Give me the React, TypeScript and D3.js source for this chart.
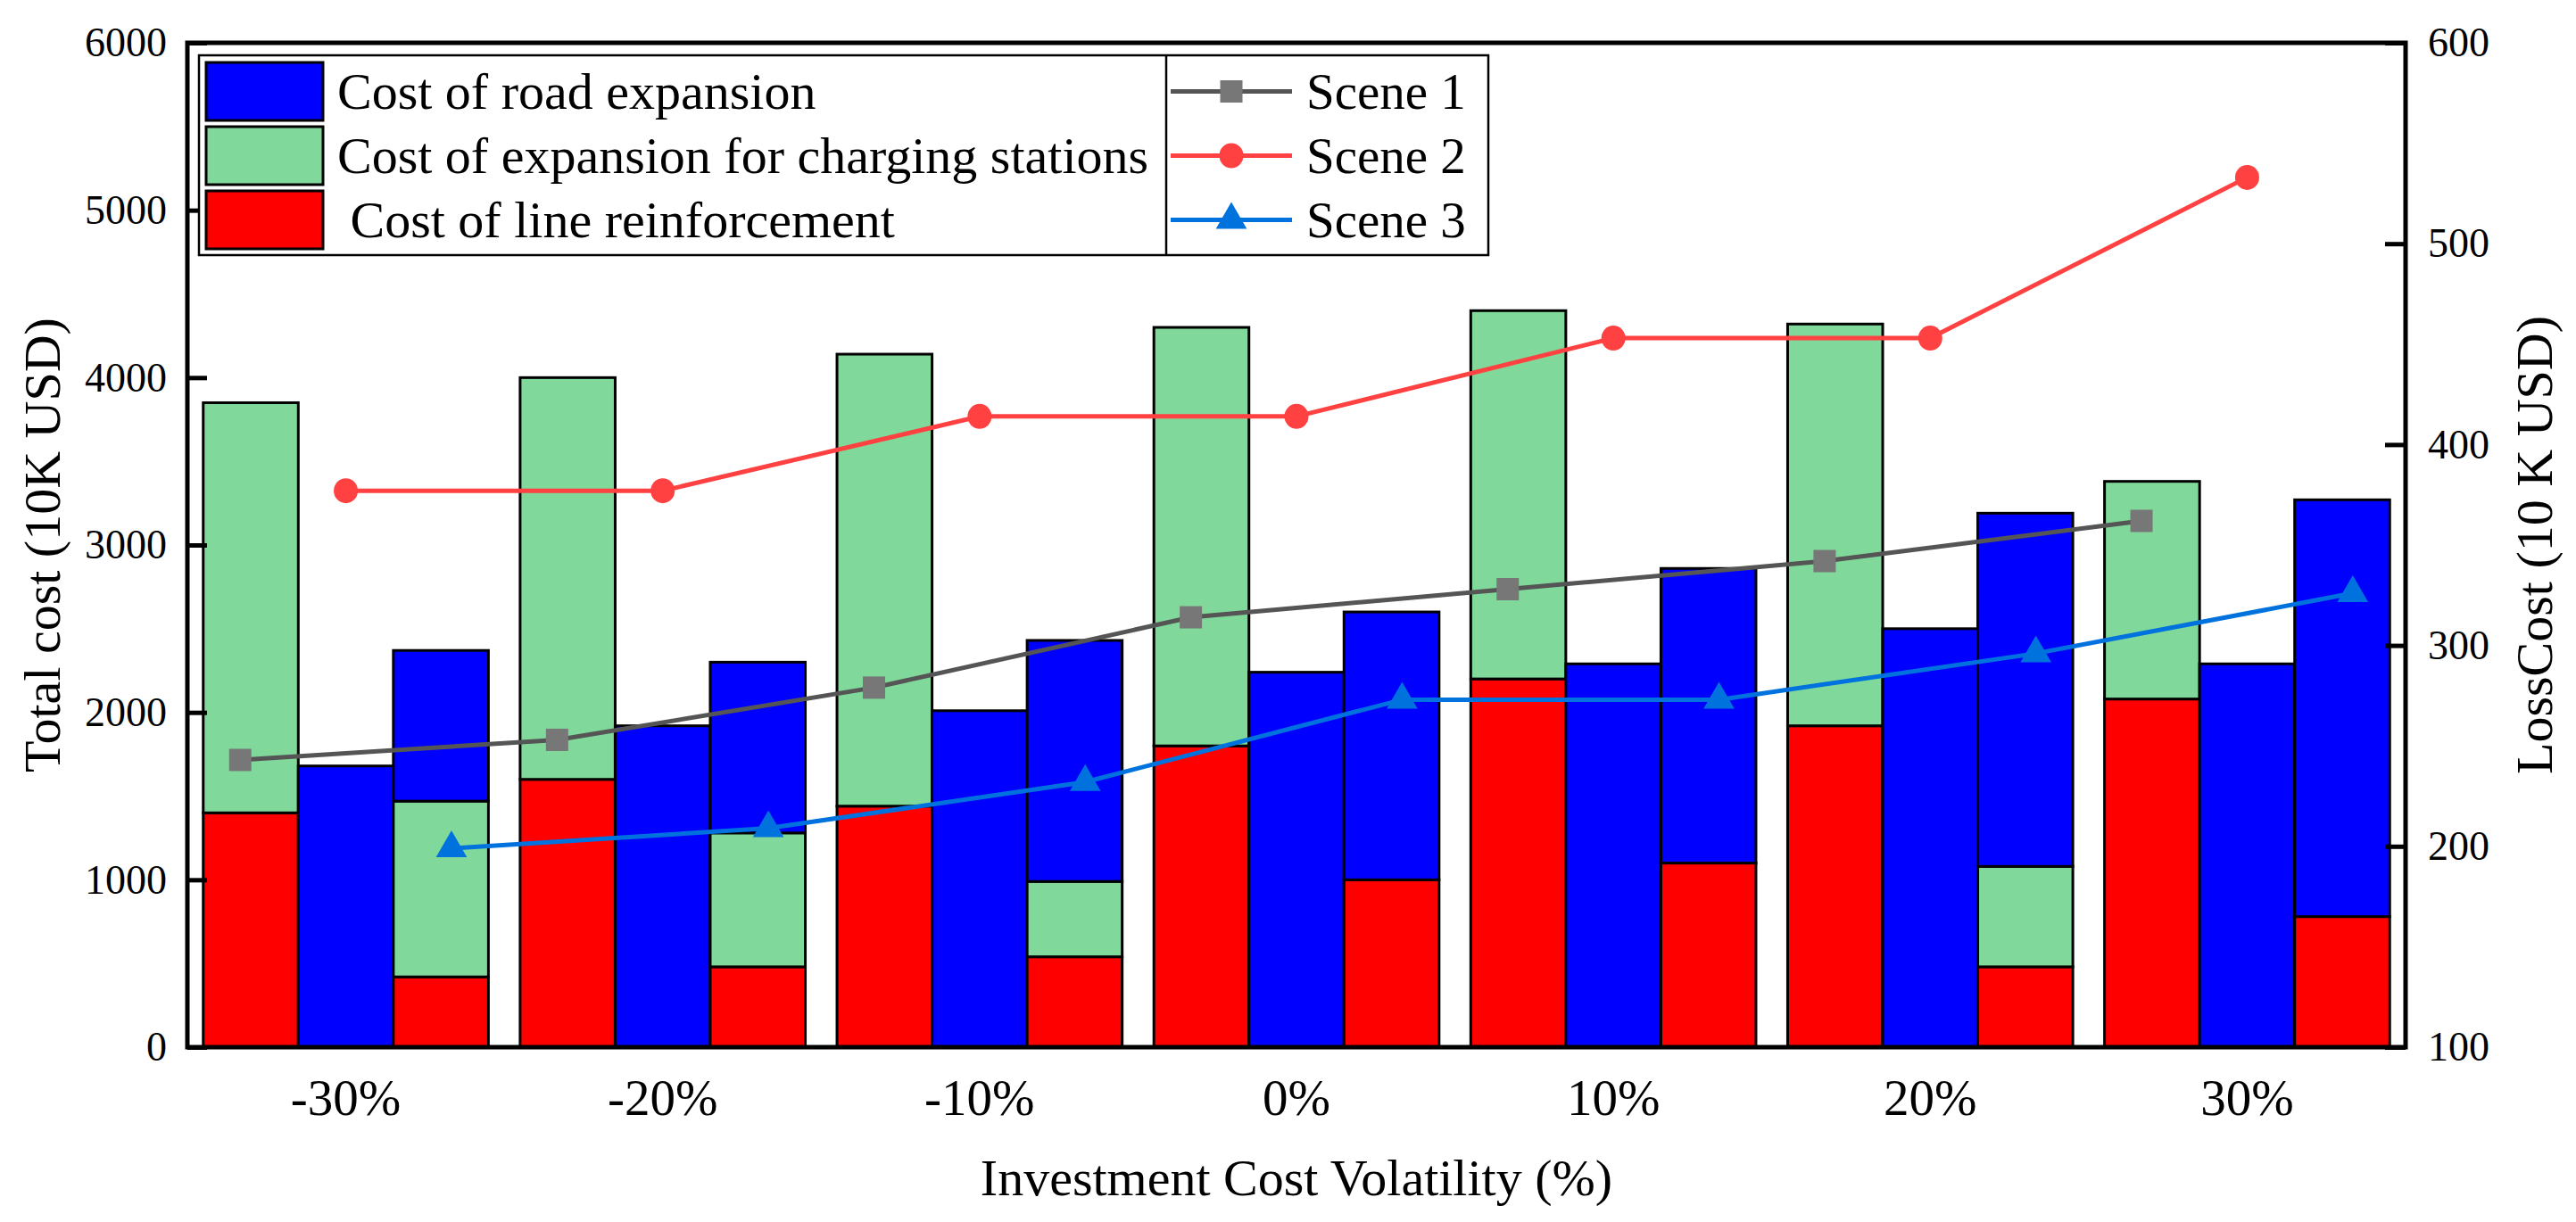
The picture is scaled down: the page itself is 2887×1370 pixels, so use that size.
import React, { useEffect, useRef } from 'react';
import * as d3 from 'd3';

// categories on the x axis
const categories = ['-30%', '-20%', '-10%', '0%', '10%', '20%', '30%'];

// Scene 1 bar: line reinforcement + charging stations
const scene1Line = [1400, 1600, 1440, 1800, 2200, 1920, 2080];
const scene1Charging = [2450, 2400, 2700, 2500, 2200, 2400, 1300];
const scene1Road = [0, 0, 0, 0, 0, 0, 0];

// Scene 2 bar: road expansion only
const scene2Line = [0, 0, 0, 0, 0, 0, 0];
const scene2Charging = [0, 0, 0, 0, 0, 0, 0];
const scene2Road = [1680, 1920, 2010, 2240, 2290, 2500, 2290];

// Scene 3 bar: all three
const scene3Line = [420, 480, 540, 1000, 1100, 480, 780];
const scene3Charging = [1050, 800, 450, 0, 0, 600, 0];
const scene3Road = [900, 1020, 1440, 1600, 1760, 2110, 2490];

// loss cost lines (right axis)
const scene1Loss = [243, 253, 279, 314, 328, 342, 362];
const scene2Loss = [377, 377, 414, 414, 453, 453, 533];
const scene3Loss = [199, 209, 232, 273, 273, 296, 326];

const leftTicks = [0, 1000, 2000, 3000, 4000, 5000, 6000];
const rightTicks = [100, 200, 300, 400, 500, 600];

const barKeys = ['line', 'charging', 'road'];
const barColors: any = { line: '#ff0000', charging: '#80d99b', road: '#0000ff' };
const barLabels = ['Cost of road expansion', 'Cost of expansion for charging stations', ' Cost of line reinforcement'];
const barLegendColors = ['#0000ff', '#80d99b', '#ff0000'];

const sceneNames = ['Scene 1', 'Scene 2', 'Scene 3'];
const sceneLineColors = ['#555555', '#ff4141', '#0072de'];
const sceneMarkerColors = ['#777777', '#ff4141', '#0072de'];
const sceneMarkers = ['square', 'circle', 'triangle'];

const FONT = '"Times New Roman", "Liberation Serif", serif';

const Chart = () => {
  const svgRef: any = useRef();

  useEffect(() => {
    document.body.style.margin = '0';
    const width = 2887;
    const height = 1370;
    const left = 210, right = 2696, top = 48, bottom = 1174;

    const svg = d3.select(svgRef.current)
      .attr('width', width)
      .attr('height', height)
      .style('font-family', FONT);
    svg.selectAll('*').remove();

    const x = d3.scaleBand().domain(categories).range([left, right])
      .paddingInner(0.1).paddingOuter(0.05);
    const y = d3.scaleLinear().domain([0, 6000]).range([bottom, top]);
    const yR = d3.scaleLinear().domain([100, 600]).range([bottom, top]);

    const scenesBars = [
      [scene1Line, scene1Charging, scene1Road],
      [scene2Line, scene2Charging, scene2Road],
      [scene3Line, scene3Charging, scene3Road],
    ];
    const bw = x.bandwidth() / 3;

    // stacked bars
    scenesBars.forEach((arrs, j) => {
      const rows = categories.map((c, i) => ({ cat: c, line: arrs[0][i], charging: arrs[1][i], road: arrs[2][i] }));
      const stacked = d3.stack<any>().keys(barKeys)(rows);
      stacked.forEach(layer => {
        svg.append('g')
          .selectAll('rect')
          .data(layer.filter((d: any) => d[1] - d[0] > 0))
          .join('rect')
          .attr('x', (d: any) => (x(d.data.cat) as number) + j * bw)
          .attr('y', (d: any) => y(d[1]))
          .attr('width', bw)
          .attr('height', (d: any) => y(d[0]) - y(d[1]))
          .attr('fill', barColors[layer.key])
          .attr('stroke', 'black')
          .attr('stroke-width', 3);
      });
    });

    // lines
    const losses = [scene1Loss, scene2Loss, scene3Loss];
    const step = x.step();
    const drawMarker = (g: any, kind: string, cx: number, cy: number, color: string) => {
      if (kind === 'square') {
        g.append('rect').attr('x', cx - 12.5).attr('y', cy - 12.5).attr('width', 25).attr('height', 25).attr('fill', color);
      } else if (kind === 'circle') {
        g.append('ellipse').attr('cx', cx).attr('cy', cy).attr('rx', 13.5).attr('ry', 14).attr('fill', color);
      } else {
        g.append('path').attr('d', d3.symbol().type(d3.symbolTriangle).size(520)()).attr('transform', `translate(${cx},${cy})`).attr('fill', color);
      }
    };
    losses.forEach((vals, j) => {
      const pts: [number, number][] = vals.map((v, i) => [
        (x(categories[i]) as number) + x.bandwidth() / 2 + (j - 1) * step / 3,
        yR(v),
      ]);
      const g = svg.append('g');
      g.append('path')
        .attr('d', d3.line()(pts))
        .attr('fill', 'none')
        .attr('stroke', sceneLineColors[j])
        .attr('stroke-width', 5);
      pts.forEach(p => drawMarker(g, sceneMarkers[j], p[0], p[1], sceneMarkerColors[j]));
    });

    // axes
    const axL = svg.append('g').attr('transform', `translate(${left},0)`)
      .call(d3.axisLeft(y).tickValues(leftTicks).tickSize(-22).tickPadding(23).tickFormat(d3.format('d')));
    const axR = svg.append('g').attr('transform', `translate(${right},0)`)
      .call(d3.axisRight(yR).tickValues(rightTicks).tickSize(-23).tickPadding(25).tickFormat(d3.format('d')));
    [axL, axR].forEach(ax => {
      ax.select('.domain').remove();
      ax.selectAll('line').attr('stroke', 'black').attr('stroke-width', 5);
      ax.selectAll('text').attr('font-size', 46).attr('font-family', FONT).attr('fill', 'black');
    });

    svg.append('rect')
      .attr('x', left).attr('y', top)
      .attr('width', right - left).attr('height', bottom - top)
      .attr('fill', 'none').attr('stroke', 'black').attr('stroke-width', 5);

    // category labels
    svg.append('g').selectAll('text').data(categories).join('text')
      .attr('x', d => (x(d) as number) + x.bandwidth() / 2)
      .attr('y', 1250)
      .attr('text-anchor', 'middle')
      .attr('font-size', 57)
      .text(d => d);

    svg.append('text')
      .attr('x', (left + right) / 2).attr('y', 1340)
      .attr('text-anchor', 'middle').attr('font-size', 58)
      .text('Investment Cost Volatility (%)');

    svg.append('text')
      .attr('transform', `translate(67,${(top + bottom) / 2}) rotate(-90)`)
      .attr('text-anchor', 'middle').attr('font-size', 58)
      .text('Total cost (10K USD)');

    svg.append('text')
      .attr('transform', `translate(2860,${(top + bottom) / 2}) rotate(-90)`)
      .attr('text-anchor', 'middle').attr('font-size', 58)
      .text('LossCost (10 K USD)');

    // legend
    const lg = svg.append('g');
    lg.append('rect').attr('x', 223).attr('y', 62).attr('width', 1445).attr('height', 224)
      .attr('fill', 'white').attr('stroke', 'black').attr('stroke-width', 2.5);
    lg.append('line').attr('x1', 1307).attr('x2', 1307).attr('y1', 62).attr('y2', 286)
      .attr('stroke', 'black').attr('stroke-width', 2.5);
    const rowY = [102.5, 174.5, 246.5];
    barLabels.forEach((lab, i) => {
      lg.append('rect').attr('x', 231).attr('y', rowY[i] - 32.5).attr('width', 131).attr('height', 65)
        .attr('fill', barLegendColors[i]).attr('stroke', 'black').attr('stroke-width', 3);
      lg.append('text').attr('x', 378).attr('y', rowY[i] + 19)
        .attr('font-size', 58).style('white-space', 'pre').text(lab);
    });
    sceneNames.forEach((name, i) => {
      lg.append('line').attr('x1', 1312).attr('x2', 1448).attr('y1', rowY[i]).attr('y2', rowY[i])
        .attr('stroke', sceneLineColors[i]).attr('stroke-width', 5);
      drawMarker(lg, sceneMarkers[i], 1380, rowY[i], sceneMarkerColors[i]);
      lg.append('text').attr('x', 1464).attr('y', rowY[i] + 19)
        .attr('font-size', 57).text(name);
    });
  }, []);

  return <svg ref={svgRef}></svg>;
};

export default function App() {
  return <Chart />;
}
